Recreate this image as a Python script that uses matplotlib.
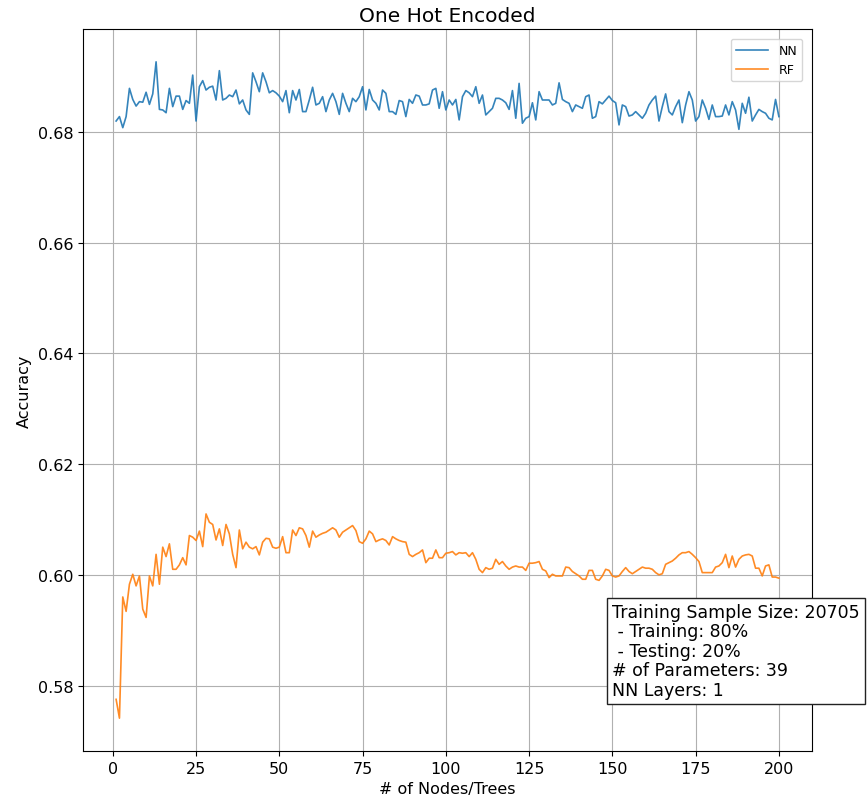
import matplotlib
matplotlib.use("Agg")
import matplotlib.pyplot as plt
import numpy as np

# number of nodes / trees
n_values = np.arange(1, 201)

# accuracy
nn_acc = [
    0.6820, 0.6828, 0.6808, 0.6828, 0.6879, 0.6859, 0.6847, 0.6855, 0.6854, 0.6872,
    0.6850, 0.6869, 0.6927, 0.6841, 0.6840, 0.6835, 0.6879, 0.6846, 0.6865, 0.6865,
    0.6841, 0.6857, 0.6852, 0.6903, 0.6820, 0.6882, 0.6893, 0.6876, 0.6881, 0.6883,
    0.6858, 0.6911, 0.6858, 0.6861, 0.6867, 0.6864, 0.6876, 0.6851, 0.6858, 0.6840,
    0.6832, 0.6907, 0.6891, 0.6873, 0.6907, 0.6891, 0.6871, 0.6875, 0.6871, 0.6865,
    0.6855, 0.6875, 0.6835, 0.6875, 0.6858, 0.6877, 0.6837, 0.6837, 0.6858, 0.6881,
    0.6849, 0.6852, 0.6864, 0.6837, 0.6858, 0.6870, 0.6855, 0.6832, 0.6870, 0.6852,
    0.6837, 0.6861, 0.6855, 0.6864, 0.6882, 0.6840, 0.6877, 0.6858, 0.6852, 0.6840,
    0.6876, 0.6870, 0.6837, 0.6837, 0.6832, 0.6857, 0.6855, 0.6828, 0.6859, 0.6852,
    0.6867, 0.6865, 0.6849, 0.6849, 0.6851, 0.6876, 0.6879, 0.6843, 0.6873, 0.6840,
    0.6858, 0.6849, 0.6859, 0.6822, 0.6864, 0.6875, 0.6871, 0.6864, 0.6882, 0.6852,
    0.6867, 0.6831, 0.6837, 0.6843, 0.6861, 0.6861, 0.6858, 0.6853, 0.6841, 0.6875,
    0.6825, 0.6888, 0.6816, 0.6825, 0.6828, 0.6853, 0.6822, 0.6873, 0.6858, 0.6858,
    0.6858, 0.6849, 0.6852, 0.6889, 0.6859, 0.6855, 0.6852, 0.6837, 0.6849, 0.6846,
    0.6843, 0.6864, 0.6867, 0.6825, 0.6828, 0.6855, 0.6851, 0.6858, 0.6865, 0.6857,
    0.6853, 0.6813, 0.6849, 0.6846, 0.6829, 0.6831, 0.6837, 0.6831, 0.6825, 0.6834,
    0.6849, 0.6858, 0.6865, 0.6820, 0.6846, 0.6869, 0.6837, 0.6831, 0.6846, 0.6858,
    0.6817, 0.6849, 0.6873, 0.6858, 0.6820, 0.6828, 0.6858, 0.6843, 0.6823, 0.6849,
    0.6828, 0.6828, 0.6829, 0.6849, 0.6831, 0.6855, 0.6840, 0.6805, 0.6852, 0.6834,
    0.6863, 0.6820, 0.6831, 0.6841, 0.6837, 0.6834, 0.6825, 0.6822, 0.6859, 0.6828,
]

rf_acc = [
    0.5775, 0.5741, 0.5960, 0.5934, 0.5983, 0.6001, 0.5980, 0.5998, 0.5938, 0.5923,
    0.5998, 0.5980, 0.6037, 0.5983, 0.6050, 0.6033, 0.6056, 0.6010, 0.6010, 0.6018,
    0.6031, 0.6018, 0.6071, 0.6068, 0.6062, 0.6079, 0.6051, 0.6110, 0.6095, 0.6091,
    0.6063, 0.6083, 0.6053, 0.6091, 0.6074, 0.6037, 0.6013, 0.6081, 0.6047, 0.6059,
    0.6050, 0.6047, 0.6051, 0.6036, 0.6059, 0.6066, 0.6065, 0.6050, 0.6048, 0.6050,
    0.6069, 0.6040, 0.6040, 0.6081, 0.6071, 0.6085, 0.6083, 0.6071, 0.6050, 0.6079,
    0.6068, 0.6072, 0.6075, 0.6077, 0.6081, 0.6085, 0.6081, 0.6068, 0.6077, 0.6081,
    0.6085, 0.6089, 0.6080, 0.6060, 0.6057, 0.6065, 0.6079, 0.6074, 0.6060, 0.6063,
    0.6065, 0.6062, 0.6054, 0.6069, 0.6065, 0.6062, 0.6060, 0.6059, 0.6037, 0.6033,
    0.6037, 0.6040, 0.6045, 0.6022, 0.6030, 0.6030, 0.6045, 0.6031, 0.6031, 0.6039,
    0.6040, 0.6042, 0.6036, 0.6040, 0.6039, 0.6040, 0.6033, 0.6040, 0.6028, 0.6010,
    0.6004, 0.6013, 0.6010, 0.6012, 0.6028, 0.6019, 0.6024, 0.6016, 0.6010, 0.6014,
    0.6016, 0.6014, 0.6014, 0.6008, 0.6021, 0.6021, 0.6022, 0.6024, 0.6010, 0.6007,
    0.5995, 0.6001, 0.5998, 0.5998, 0.5998, 0.6014, 0.6013, 0.6006, 0.6002, 0.5998,
    0.5992, 0.5992, 0.6008, 0.6008, 0.5992, 0.5990, 0.5998, 0.6010, 0.6008, 0.5998,
    0.5996, 0.5998, 0.6006, 0.6013, 0.6006, 0.6002, 0.6006, 0.6010, 0.6014, 0.6012,
    0.6012, 0.6010, 0.6004, 0.6000, 0.6002, 0.6019, 0.6022, 0.6025, 0.6030, 0.6036,
    0.6040, 0.6040, 0.6042, 0.6037, 0.6031, 0.6024, 0.6004, 0.6004, 0.6004, 0.6004,
    0.6014, 0.6016, 0.6022, 0.6037, 0.6013, 0.6034, 0.6014, 0.6028, 0.6034, 0.6036,
    0.6037, 0.6034, 0.6012, 0.6012, 0.5998, 0.6016, 0.6018, 0.5996, 0.5996, 0.5994,
]

info_text = ("Training Sample Size: 20705\n - Training: 80%\n - Testing: 20%\n"
             "# of Parameters: 39\nNN Layers: 1")

fig = plt.figure(figsize=(8.68, 8.04), dpi=100)
ax = fig.add_axes([0.0956, 0.0647, 0.8399, 0.898])

ax.plot(n_values, nn_acc, label="NN", linewidth=1.2, alpha=0.9)
ax.plot(n_values, rf_acc, label="RF", linewidth=1.2, alpha=0.9)

ax.set_title("One Hot Encoded", fontsize=14.5)
ax.set_xlabel("# of Nodes/Trees", fontsize=11.5)
ax.set_ylabel("Accuracy", fontsize=11.5)
ax.set_xticks([0, 25, 50, 75, 100, 125, 150, 175, 200])
ax.set_yticks([0.58, 0.60, 0.62, 0.64, 0.66, 0.68])
ax.tick_params(labelsize=11.5)
ax.grid(True)
ax.legend(loc="upper right", fontsize=9, handlelength=2.6, borderaxespad=0.8)

ax.text(0.7257, 0.205, info_text, transform=ax.transAxes, fontsize=12.5,
        va="top", ha="left", clip_on=False, zorder=5, linespacing=1.1,
        bbox=dict(boxstyle="square,pad=0.3", facecolor="white", edgecolor="#222222"))

fig.savefig("out.png", dpi=100)
